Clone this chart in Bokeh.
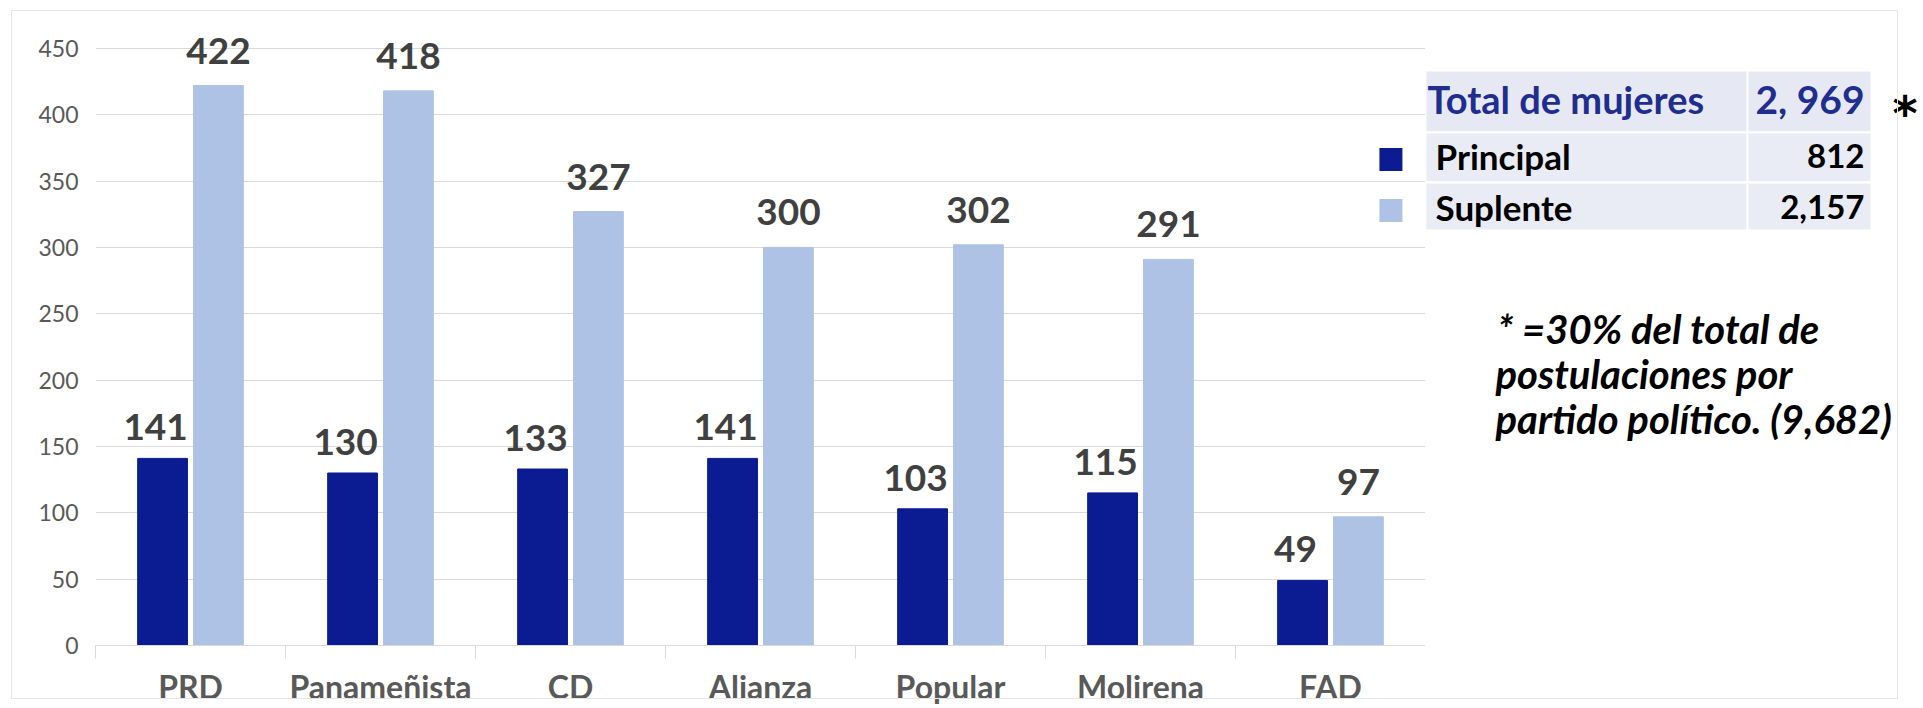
from bokeh.plotting import figure
from bokeh.models import Range1d, FixedTicker, ColumnDataSource, InlineStyleSheet
from bokeh.layouts import row
from bokeh.embed import file_html
from bokeh.resources import INLINE
from bokeh.core.properties import value
import numpy as np

# ---------------- data ----------------
partidos = ["PRD", "Panameñista", "CD", "Alianza", "Popular", "Molirena", "FAD"]
principal = [141, 130, 133, 141, 103, 115, 49]
suplente = [422, 418, 327, 300, 302, 291, 97]
y_ticks = [0, 50, 100, 150, 200, 250, 300, 350, 400, 450]
series_names = ["Principal", "Suplente"]
series_totals = ["812", "2,157"]
total_label = "Total de mujeres"
total_value = "2, 969"
nota = ["* =30% del total de", "postulaciones por", "partido político. (9,682)"]

FONT = "Lato"
C_PRINC = "#0b1b92"
C_SUPL = "#aec2e5"
C_TEXT = "#404040"
C_AXIS = "#595959"
C_GRID = "#d9d9d9"
C_TITLE = "#1f2d8f"

centers = np.arange(len(partidos)) + 0.5
OFF = 0.147
BW = 0.262

src = ColumnDataSource(dict(
    xp=centers - OFF, xs=centers + OFF,
    principal=principal, suplente=suplente,
    tp=[str(v) for v in principal], ts=[str(v) for v in suplente],
))

TOP, BOTTOM = 20, 63

# ---------------- main chart ----------------
p = figure(width=1425, height=708, x_range=Range1d(0, 7), y_range=Range1d(0, 471),
           output_backend="svg", toolbar_location=None,
           min_border_left=95, min_border_right=0, min_border_top=TOP, min_border_bottom=BOTTOM)
p.outline_line_color = None
p.background_fill_color = "white"
p.border_fill_color = "white"
p.xgrid.grid_line_color = None
p.ygrid.grid_line_color = C_GRID
p.ygrid.grid_line_width = 1

p.xaxis.ticker = FixedTicker(ticks=list(centers), minor_ticks=list(range(len(partidos) + 1)))
p.xaxis.major_label_overrides = {float(c): n for c, n in zip(centers, partidos)}
p.xaxis.axis_line_color = C_GRID
p.xaxis.major_tick_out = 0
p.xaxis.major_tick_in = 0
p.xaxis.minor_tick_in = 0
p.xaxis.minor_tick_out = 13
p.xaxis.minor_tick_line_color = C_GRID
p.xaxis.major_label_text_font = FONT
p.xaxis.major_label_text_font_style = "bold"
p.xaxis.major_label_text_font_size = "32px"
p.xaxis.major_label_text_color = C_AXIS
p.xaxis.major_label_standoff = 8

p.yaxis.ticker = FixedTicker(ticks=y_ticks)
p.yaxis.axis_line_color = None
p.yaxis.major_tick_line_color = None
p.yaxis.major_tick_out = 0
p.yaxis.major_tick_in = 0
p.yaxis.minor_tick_line_color = None
p.yaxis.major_label_text_font = FONT
p.yaxis.major_label_text_font_size = "23px"
p.yaxis.major_label_text_color = C_AXIS
p.yaxis.major_label_standoff = 17

p.vbar(x="xp", top="principal", width=BW, color=C_PRINC, source=src)
p.vbar(x="xs", top="suplente", width=BW, color=C_SUPL, source=src)

p.text(x="xp", y="principal", text="tp", source=src, x_offset=-7, y_offset=-31,
       text_align="center", text_baseline="alphabetic", text_font=value(FONT),
       text_font_style="bold", text_font_size="37px", text_color=C_TEXT)
p.text(x="xs", y="suplente", text="ts", source=src, y_offset=-35,
       text_align="center", text_baseline="alphabetic", text_font=value(FONT),
       text_font_style="bold", text_font_size="37px", text_color=C_TEXT)

# legend keys
p.scatter(x=[6.818, 6.818], y=[366.3, 327.9], marker="square", size=23,
          color=[C_PRINC, C_SUPL], line_color=None)

# ---------------- side panel (table + note), page-pixel coordinates ----------------
q = figure(width=498, height=708, x_range=Range1d(1425, 1923), y_range=Range1d(645, 20),
           output_backend="svg", toolbar_location=None,
           min_border_left=0, min_border_right=0, min_border_top=TOP, min_border_bottom=BOTTOM,
           x_axis_type=None, y_axis_type=None)
q.outline_line_color = None
q.grid.visible = False
q.background_fill_color = "white"
q.border_fill_color = "white"

q.quad(left=[1425] * 3, right=[1871] * 3, top=[70, 132, 182], bottom=[132, 182, 230],
       fill_color=["#e6e9f3", "#e9ecf4", "#e9ecf4"], line_color="white", line_width=2)
q.segment(x0=[1747], y0=[70], x1=[1747], y1=[230], line_color="white", line_width=2)

q.text(x=[1427], y=[98], text=[total_label], text_font=value(FONT), text_font_style="bold",
       text_font_size="38px", text_color=C_TITLE, text_baseline="alphabetic", text_align="left")
q.text(x=[1864], y=[98], text=[total_value], text_font=value(FONT), text_font_style="bold",
       text_font_size="39px", text_color=C_TITLE, text_baseline="alphabetic", text_align="right")
q.text(x=[1892], y=[112], text=["*"], text_font=value("DejaVu Sans"), text_font_style="bold",
       text_font_size="48px", text_color="black", text_baseline="alphabetic", text_align="left")

q.text(x=[1435, 1435], y=[155, 206], text=series_names, text_font=value(FONT), text_font_style="bold",
       text_font_size="35px", text_color="black", text_baseline="alphabetic", text_align="left")
q.text(x=[1864, 1864], y=[155, 206], text=series_totals, text_font=value(FONT), text_font_style="bold",
       text_font_size="33px", text_color="black", text_baseline="alphabetic", text_align="right")

q.text(x=[1497, 1495, 1495], y=[328, 373, 418], text=nota, text_font=value(FONT),
       text_font_style="bold italic", text_font_size="40px", text_color="black",
       text_baseline="alphabetic", text_align="left")

css = InlineStyleSheet(css=""":host { position: relative; }
:host::after { content: ''; position: absolute; left: 11px; top: 10px; width: 1887px; height: 689px;
  border: 1px solid #e6e6e6; box-sizing: border-box; pointer-events: none; }""")
layout = row(p, q, stylesheets=[css])

open("out.html", "w").write(file_html(layout, INLINE))
